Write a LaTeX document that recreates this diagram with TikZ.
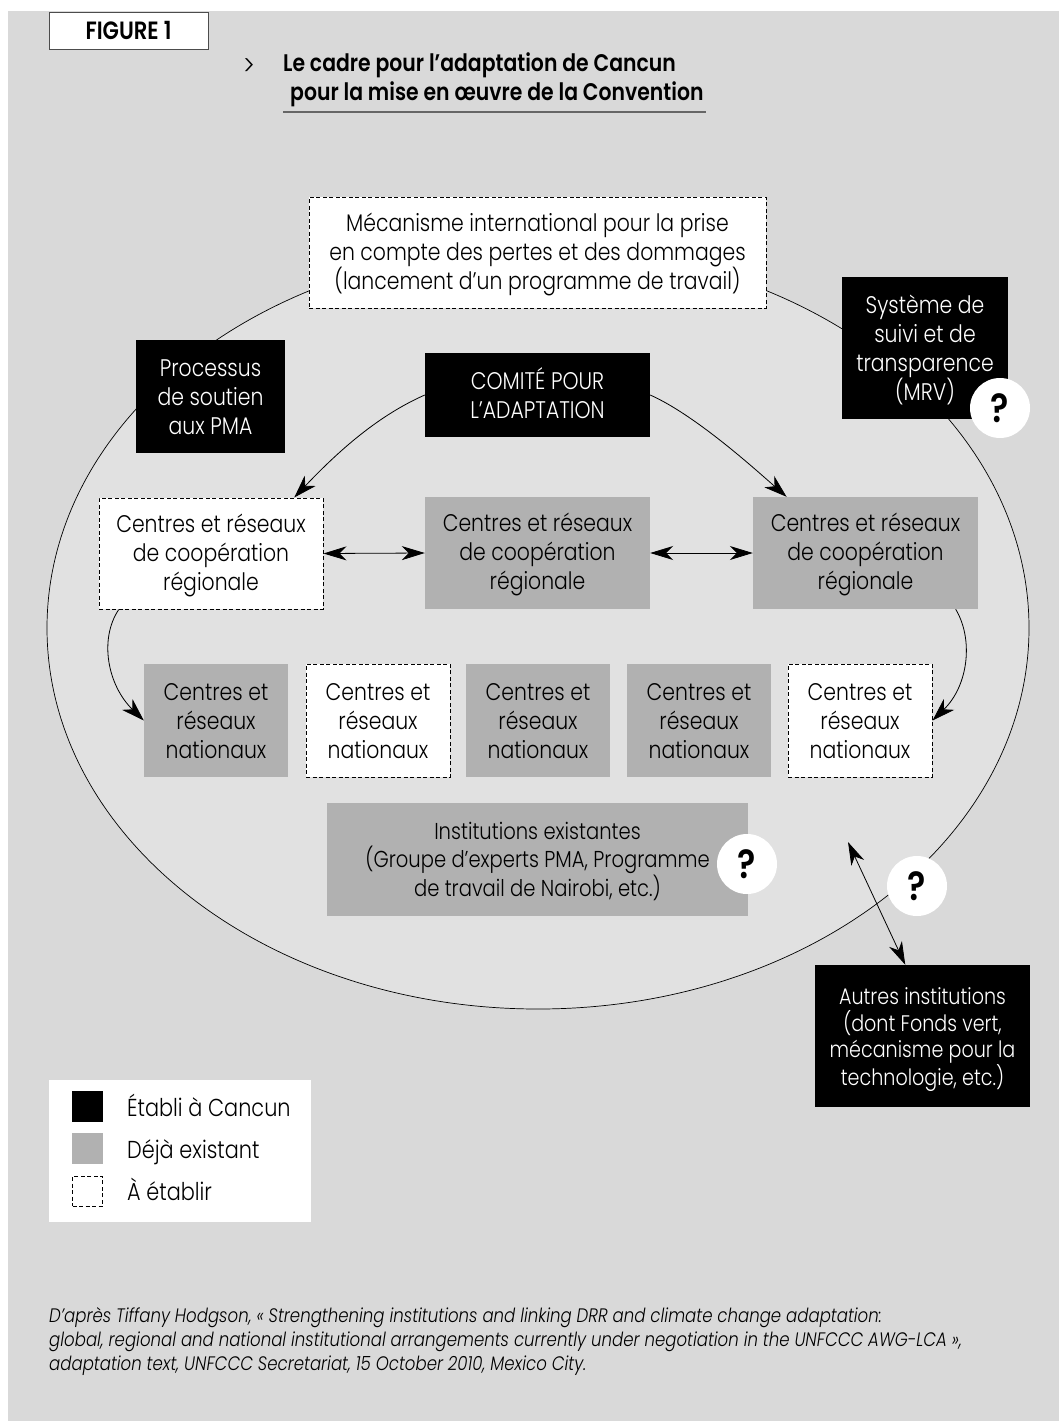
\documentclass[tikz,border=0pt]{standalone}
\usepackage{fontspec}
\usetikzlibrary{arrows.meta,calc,shapes.geometric}
\setmainfont{Poppins Light}[FakeStretch=0.85,BoldFont={Poppins SemiBold},ItalicFont={Poppins Light Italic}]
\definecolor{bgc}{HTML}{D9D9D9}
\definecolor{ellc}{HTML}{E1E1E1}
\definecolor{boxg}{HTML}{B1B1B1}
\newcommand{\bodyfs}{\fontsize{24}{29}\selectfont}
\newcommand{\firstln}{\rule{0pt}{22pt}}
\newcommand{\lastln}{\rule[-5pt]{0pt}{5pt}}
\tikzset{
 anybox/.style={inner sep=0pt,align=center,font=\bodyfs},
 blackbox/.style={anybox,fill=black,text=white},
 graybox/.style={anybox,fill=boxg,text=black},
 dashbox/.style={anybox,fill=white,draw=black,line width=1pt,dash pattern=on 4pt off 2.5pt,text=black},
 natsize/.style={minimum width=144pt,minimum height=113pt},
 regsize/.style={minimum width=225pt,minimum height=112pt},
 qmark/.style={circle,fill=white,minimum size=60pt,inner sep=0pt,font=\fontsize{40}{40}\selectfont\bfseries},
 conn/.style={line width=.8pt,-{Stealth[length=23pt,width=15pt,inset=7pt]}},
 dconn/.style={line width=.8pt,{Stealth[length=23pt,width=14pt,inset=7pt]}-{Stealth[length=23pt,width=14pt,inset=7pt]}},
 swatch/.style={minimum size=31pt,inner sep=0pt},
 legtext/.style={anchor=base west,inner sep=0pt,font=\fontsize{24.5}{29}\selectfont},
}
\begin{document}
\begin{tikzpicture}[x=1pt,y=-1pt]
\useasboundingbox (0,0) rectangle (1059,1421);
\fill[white] (0,0) rectangle (1059,1421);
\fill[bgc] (8,11) rectangle (1059,1421);
\node[anybox,fill=white,draw=black!70,line width=.8pt,minimum width=159pt,minimum height=37pt,font=\fontsize{25}{28}\selectfont\bfseries] (fig) at (128.5,30.5) {\rule{0pt}{23pt}FIGURE 1\lastln};
\node[inner sep=0pt,anchor=base west,font=\fontsize{28}{28}\selectfont] (gt) at (243,75) {>};
\node[inner sep=0pt,anchor=north west,align=left,font=\fontsize{24}{29}\selectfont\bfseries] (title) at (283,52) {Le cadre pour l’adaptation de Cancun\\\hspace*{7pt}pour la mise en œuvre de la Convention};
\draw[black!60,line width=1.5pt] (title.west |- 0,112) -- (706,112);
\node[ellipse,draw=black,fill=ellc,line width=.7pt,minimum width=982pt,minimum height=762pt,inner sep=0pt] (ell) at (538,628) {};
\node[dashbox,minimum width=457pt,minimum height=111pt] (meca) at (537.5,252.5) {\firstln Mécanisme international pour la prise\\en compte des pertes et des dommages\\(lancement d’un programme de travail)\lastln};
\node[blackbox,minimum width=166pt,minimum height=142pt] (sys) at (925,348) {\firstln Système de\\suivi et de\\transparence\\(MRV)\lastln};
\node[blackbox,minimum width=149pt,minimum height=113pt] (proc) at (210.5,396.5) {\firstln Processus\\de soutien\\aux PMA\lastln};
\node[blackbox,minimum width=225pt,minimum height=84pt] (comite) at (537.5,395) {\firstln COMITÉ POUR\\L’ADAPTATION\lastln};
\node[dashbox,minimum width=224pt,minimum height=111pt] (regL) at (211,553.5) {\firstln Centres et réseaux\\de coopération\\régionale\lastln};
\node[graybox,regsize] (regM) at (537.5,553) {\firstln Centres et réseaux\\de coopération\\régionale\lastln};
\node[graybox,regsize] (regR) at (865.5,553) {\firstln Centres et réseaux\\de coopération\\régionale\lastln};
\node[graybox,natsize] (natA) at (216,720.5) {\firstln Centres et\\réseaux\\nationaux\lastln};
\node[dashbox,natsize] (natB) at (378,720.5) {\firstln Centres et\\réseaux\\nationaux\lastln};
\node[graybox,natsize] (natC) at (538,720.5) {\firstln Centres et\\réseaux\\nationaux\lastln};
\node[graybox,natsize] (natD) at (699,720.5) {\firstln Centres et\\réseaux\\nationaux\lastln};
\node[dashbox,natsize] (natE) at (860,720.5) {\firstln Centres et\\réseaux\\nationaux\lastln};
\node[graybox,minimum width=421pt,minimum height=113pt,font=\fontsize{23}{27.5}\selectfont] (inst) at (537.5,859.5) {\firstln Institutions existantes\\(Groupe d’experts PMA, Programme\\de travail de Nairobi, etc.)\lastln};
\node[blackbox,minimum width=215pt,minimum height=142pt,font=\fontsize{22.5}{26.5}\selectfont] (autres) at (922.5,1036) {\rule{0pt}{24pt}Autres institutions\\(dont Fonds vert,\\mécanisme pour la\\technologie, etc.)\lastln};
\node[qmark] (q1) at (1000,408) {?};
\node[qmark] (q2) at (747,864) {?};
\node[qmark] (q3) at (917,886) {?};
% connectors
\coordinate (free) at (848,842);
\draw[conn] (comite.west) .. controls +(-50,22) and +(40,-42) .. ($(regL.north west)!.87!(regL.north east)$);
\draw[conn] (comite.east) .. controls +(45,20) and +(-32,-28) .. ($(regR.north west)!.15!(regR.north east)$);
\draw[dconn] (regL.east) -- (regM.west);
\draw[dconn] (regM.east) -- (regR.west);
\draw[conn] ($(regL.south west)!.09!(regL.south east)$) .. controls +(-20,30) and +(-36,-35) .. ($(natA.north west)!.5!(natA.south west)$);
\draw[conn] ($(regR.south west)!.90!(regR.south east)$) .. controls +(18,30) and +(36,-35) .. ($(natE.north east)!.5!(natE.south east)$);
\draw[dconn] (free) -- ($(autres.north west)!.42!(autres.north east)$);
% legend
\node[fill=white,minimum width=262pt,minimum height=142pt,inner sep=0pt] (leg) at (180,1151) {};
\node[swatch,fill=black] (s1) at (87.5,1106.5) {};
\node[swatch,fill=boxg] (s2) at (87.5,1148.5) {};
\node[swatch,draw=black,line width=1pt,dash pattern=on 4pt off 2.5pt,minimum size=30pt] (s3) at (87.5,1191) {};
\node[legtext] (l1) at (127,1116) {Établi à Cancun};
\node[legtext] (l2) at (127,1158) {Déjà existant};
\node[legtext] (l3) at (127,1200) {À établir};
\node[inner sep=0pt,anchor=north west,align=left,font=\fontsize{19.5}{24}\selectfont\itshape] (foot) at (49,1307.5) {D’après Tiffany Hodgson, « Strengthening institutions and linking DRR and climate change adaptation:\\global, regional and national institutional arrangements currently under negotiation in the UNFCCC AWG-LCA »,\\adaptation text, UNFCCC Secretariat, 15 October 2010, Mexico City.};
\end{tikzpicture}
\end{document}
